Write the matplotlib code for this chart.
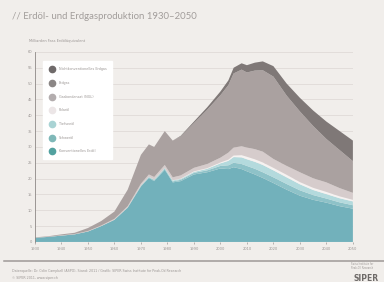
import matplotlib
matplotlib.use("Agg")
import matplotlib.pyplot as plt
from matplotlib.lines import Line2D

# Jahre und Produktion (Milliarden Fass Öläquivalent pro Jahr), Werte aus der Grafik geschätzt
years = [1930, 1935, 1940, 1945, 1950, 1955, 1960, 1965, 1970, 1973, 1975, 1979, 1982,
         1985, 1990, 1995, 2000, 2003, 2005, 2008, 2010, 2013, 2016, 2020, 2025, 2030,
         2035, 2040, 2045, 2050]
konv_oel = [1.3, 1.6, 2.0, 2.4, 3.3, 5.0, 7.0, 10.8, 17.5, 20.2, 19.2, 22.8, 18.8,
            19.2, 21.3, 22.0, 23.2, 23.0, 23.6, 23.0, 22.3, 21.3, 20.2, 18.6, 16.5, 14.6,
            13.3, 12.4, 11.3, 10.5]
schweroel = [0, 0, 0, 0, 0, 0, 0, 0.1, 0.2, 0.2, 0.3, 0.3, 0.3,
             0.4, 0.5, 0.6, 0.8, 1.2, 1.4, 1.6, 1.7, 1.8, 1.8, 1.8, 1.8, 1.7,
             1.5, 1.3, 1.2, 1.1]
tiefsee = [0, 0, 0, 0, 0, 0, 0, 0, 0.1, 0.2, 0.2, 0.3, 0.3,
           0.3, 0.3, 0.5, 0.8, 1.4, 1.8, 2.1, 2.1, 2.2, 2.3, 2.2, 2.1, 1.9,
           1.6, 1.4, 1.3, 1.2]
polar = [0, 0, 0, 0, 0, 0, 0, 0, 0, 0, 0, 0, 0.1,
         0.1, 0.2, 0.2, 0.3, 0.4, 0.5, 0.7, 0.8, 0.8, 0.8, 0.8, 0.8, 0.7,
         0.7, 0.7, 0.6, 0.5]
ngl = [0.05, 0.05, 0.1, 0.1, 0.15, 0.2, 0.3, 0.4, 0.6, 0.7, 0.8, 0.9, 0.9,
       1.0, 1.1, 1.3, 1.5, 2.2, 2.5, 2.8, 2.9, 3.2, 3.4, 2.8, 2.8, 3.1,
       3.0, 3.0, 2.6, 2.2]
erdgas = [0.1, 0.15, 0.3, 0.4, 0.95, 1.4, 2.3, 5.2, 9.1, 9.5, 9.5, 10.7, 11.6,
          12.3, 14.1, 17.1, 19.7, 21.3, 23.4, 24.2, 23.7, 24.8, 25.7, 26.0, 22.2, 19.2,
          16.5, 13.7, 12.0, 10.0]
nk_erdgas = [0, 0, 0, 0, 0, 0, 0, 0, 0, 0, 0, 0, 0,
             0.2, 0.5, 0.8, 1.2, 1.5, 1.8, 2.0, 2.3, 2.5, 2.8, 3.3, 3.8, 4.3,
             4.9, 5.5, 6.0, 6.5]

labels = ["Nichtkonventionelles Erdgas", "Erdgas", "Gaskondensat (NGL)", "Polaröl",
          "Tiefseeöl", "Schweröl", "Konventionelles Erdöl"]
area_colors = ["#72b1bb", "#8ec2c8", "#b4dadd", "#f6f2f1", "#d6cccc", "#aaa1a0", "#7f7877"]
dot_colors = ["#6f6a6a", "#8b8685", "#b3adae", "#ece6e7", "#a9d3d4", "#7fb8b8", "#52a19f"]
x_ticks = list(range(1930, 2051, 10))
y_ticks = list(range(0, 61, 5))

bg = "#f1eeeb"
txt = "#9b9694"

fig = plt.figure(figsize=(3.84, 2.82), dpi=100, facecolor=bg)
ax = fig.add_axes([0.091, 0.142, 0.828, 0.674], facecolor=bg)

ax.stackplot(years, konv_oel, schweroel, tiefsee, polar, ngl, erdgas, nk_erdgas,
             colors=area_colors, linewidth=0, zorder=2)

ax.set_xlim(1930, 2050)
ax.set_ylim(0, 60)
ax.set_xticks(x_ticks)
ax.set_yticks(y_ticks)
ax.tick_params(labelsize=2.6, colors=txt, length=1.5, width=0.5, pad=2)
ax.tick_params(axis="y", length=0)
ax.grid(axis="y", color="#dcd7d3", linewidth=0.5, zorder=0)
for s in ["top", "right"]:
    ax.spines[s].set_visible(False)
ax.spines["left"].set_color("#8d8886")
ax.spines["left"].set_linewidth(0.6)
ax.spines["bottom"].set_visible(False)

ax.text(-0.02, 1.045, "Milliarden Fass Erdöläquivalent", transform=ax.transAxes,
        fontsize=2.6, color=txt, ha="left", va="bottom")

handles = [Line2D([], [], marker="o", linestyle="none", markersize=4.5,
                  markerfacecolor=c, markeredgecolor=c) for c in dot_colors]
leg = ax.legend(handles, labels, loc="upper left", bbox_to_anchor=(0.025, 0.95),
                fontsize=2.4, labelspacing=2.9, borderpad=1.8, handletextpad=0.9,
                frameon=True, fancybox=False, facecolor="white", edgecolor="white",
                framealpha=1, borderaxespad=0)
for t in leg.get_texts():
    t.set_color(txt)

fig.text(0.03, 0.94, "// Erdöl- und Erdgasproduktion 1930–2050", fontsize=6.9,
         color="#a29d9b", family="Lato", ha="left", va="center")

fig.add_artist(Line2D([0.01, 1.0], [0.073, 0.073], color="#9e9997", linewidth=1.1,
                      transform=fig.transFigure))
fig.text(0.03, 0.038, "Datenquelle: Dr. Colin Campbell (ASPO), Stand: 2011 / Grafik: SIPER Swiss Institute for Peak-Oil Research",
         fontsize=2.3, color=txt, ha="left", va="center")
fig.text(0.03, 0.015, "© SIPER 2011, www.siper.ch", fontsize=2.3, color=txt,
         ha="left", va="center")
fig.text(0.915, 0.056, "Swiss Institute for\nPeak-Oil Research", fontsize=1.8, color=txt,
         ha="left", va="center", linespacing=1.1)
fig.text(0.92, -0.005, "SIPER", fontsize=5.5, color="#6e6a68", fontweight="bold",
         ha="left", va="bottom")

fig.savefig("out.png", dpi=100, facecolor=bg)
